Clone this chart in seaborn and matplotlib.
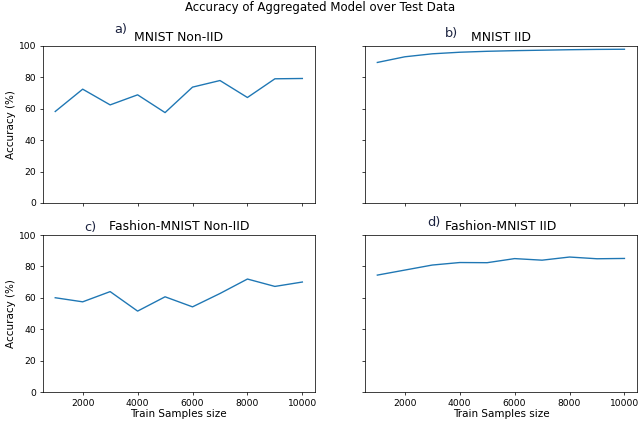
import numpy as np
import pandas as pd
import seaborn as sns
import matplotlib
matplotlib.use('Agg')
import matplotlib.pyplot as plt

# Data
samples = [1000, 2000, 3000, 4000, 5000, 6000, 7000, 8000, 9000, 10000]
mnist_noniid = [58.2, 72.4, 62.4, 68.8, 57.5, 73.7, 77.9, 67.1, 79.0, 79.2]
mnist_iid = [89.4, 93.0, 94.9, 95.9, 96.5, 96.9, 97.2, 97.5, 97.7, 97.8]
fashion_noniid = [60.1, 57.5, 64.0, 51.6, 60.7, 54.3, 62.8, 72.0, 67.3, 70.1]
fashion_iid = [74.5, 77.7, 80.9, 82.5, 82.4, 85.0, 84.0, 86.0, 84.9, 85.1]

titles = ['MNIST Non-IID', 'MNIST IID', 'Fashion-MNIST Non-IID', 'Fashion-MNIST IID']
letters = ['a)', 'b)', 'c)', 'd)']
series = [mnist_noniid, mnist_iid, fashion_noniid, fashion_iid]

plt.rcParams['font.family'] = ['DejaVu Sans']
plt.rcParams['axes.labelsize'] = 11.3

DPI = 66
fig, axes = plt.subplots(2, 2, sharex=True, sharey=True,
                         figsize=(640 / DPI, 424 / DPI), dpi=DPI)
fig.subplots_adjust(left=0.067, right=0.995, top=0.892, bottom=0.075,
                    wspace=0.185, hspace=0.204)

for ax, vals, title in zip(axes.flat, series, titles):
    df = pd.DataFrame({'samples': samples, 'acc': vals})
    sns.lineplot(data=df, x='samples', y='acc', ax=ax, color='#1f77b4', linewidth=1.5)
    ax.set_title(title, fontsize=13.5, pad=5)
    ax.set_xlabel('')
    ax.set_ylabel('')

axes[0, 0].set_ylim(0, 100)
axes[0, 0].set_yticks([0, 20, 40, 60, 80, 100])
axes[0, 0].set_xticks([2000, 4000, 6000, 8000, 10000])

for ax in axes[:, 0]:
    ax.set_ylabel('Accuracy (%)', labelpad=3)
for ax in axes[1, :]:
    ax.set_xlabel('Train Samples size', labelpad=2)

# panel letters, placed above-left of each title
letter_pos = [(121, 29), (452, 33), (90, 228), (434, 222)]
for lab, (px, py) in zip(letters, letter_pos):
    fig.text(px / 640, 1 - py / 424, lab, fontsize=14, color='#1c2340',
             ha='center', va='center')

fig.suptitle('Accuracy of Aggregated Model over Test Data', fontsize=12.8,
             y=0.997, va='top')

fig.savefig('out.png', dpi=DPI)
